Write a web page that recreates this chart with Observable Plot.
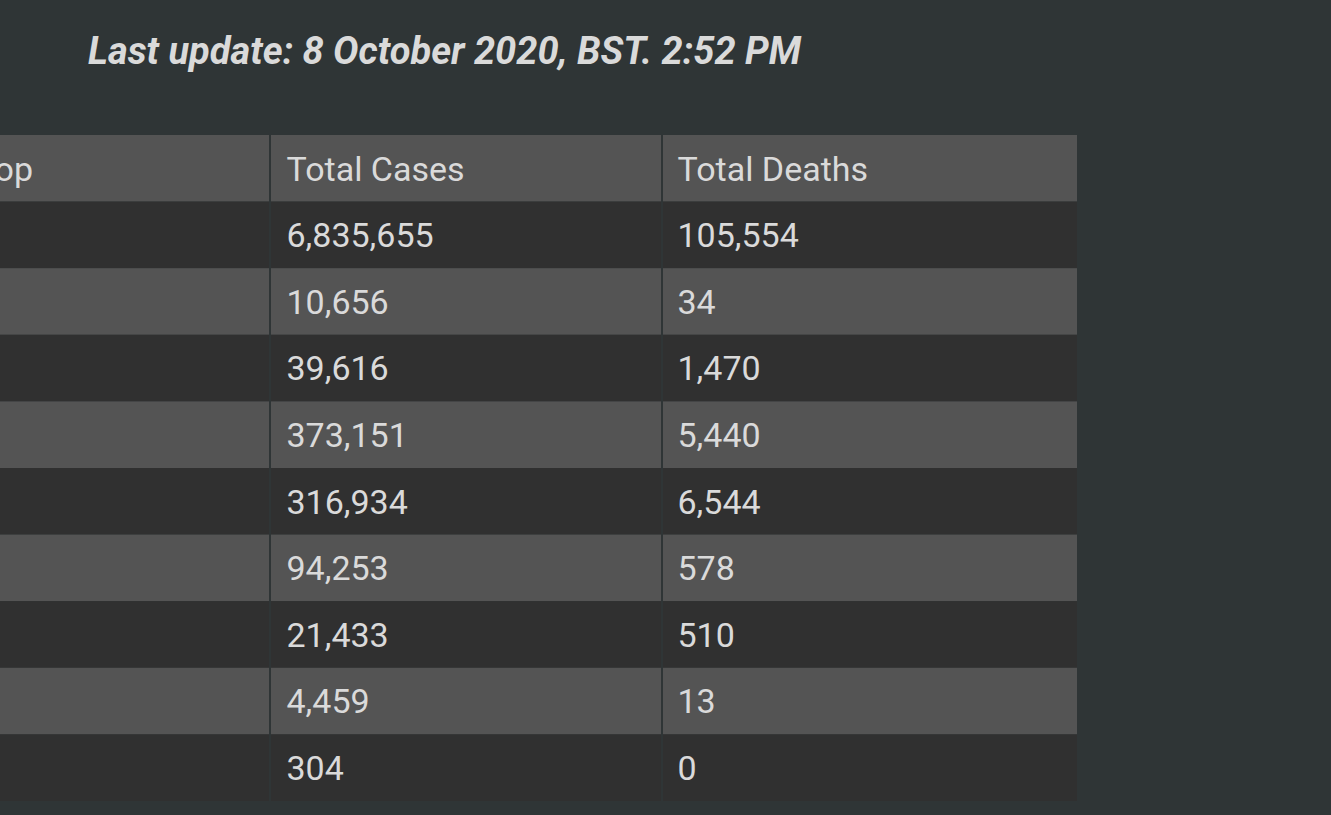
<!DOCTYPE html>
<html>
<head>
<meta charset="utf-8">
<script src="https://cdn.jsdelivr.net/npm/d3@7"></script>
<script src="https://cdn.jsdelivr.net/npm/@observablehq/plot@0.6"></script>
<style>
  html, body { margin: 0; padding: 0; background: #2f3536; overflow: hidden; width: 1331px; height: 815px; }
  #title { height: 100px; box-sizing: border-box; padding: 32px 0 0 88px; font-family: Roboto, sans-serif; font-weight: 700; font-style: italic; font-size: 38px; line-height: 38px; color: #dadada; white-space: nowrap; }
  #chart svg { display: block; }
</style>
</head>
<body>
<div id="title">Last update: 8 October 2020, BST. 2:52 PM</div>
<div id="chart"></div>
<script>
const columns = ["Country Pop", "Total Cases", "Total Deaths"];
const rows = ["India", "Maldives", "Afghanistan", "Bangladesh", "Pakistan", "Nepal", "Myanmar", "Sri Lanka", "Bhutan"];
const totalCases = [6835655, 10656, 39616, 373151, 316934, 94253, 21433, 4459, 304];
const totalDeaths = [105554, 34, 1470, 5440, 6544, 578, 510, 13, 0];

const fmt = d3.format(",");
const rowKeys = ["header", ...rows];
const cells = [];
columns.forEach((c) => cells.push({row: "header", col: c, label: c, k: 0}));
rows.forEach((r, i) => {
  cells.push({row: r, col: columns[0], label: "", k: i + 1});
  cells.push({row: r, col: columns[1], label: fmt(totalCases[i]), k: i + 1});
  cells.push({row: r, col: columns[2], label: fmt(totalDeaths[i]), k: i + 1});
});
const inCol = (j) => cells.filter((d) => d.col === columns[j]);
const fillOf = (d) => d.k % 2 === 0 ? "#545454" : "#303030";
const txt = {x: "col", y: "row", text: "label", dy: 1, fill: "#dadada", fontSize: 34};

const plot = Plot.plot({
  width: 1331,
  height: 715,
  margin: 0,
  style: {background: "transparent", fontFamily: "Roboto, sans-serif"},
  x: {type: "band", domain: columns, range: [-144, 1077], padding: 0, round: false, axis: null},
  y: {type: "band", domain: rowKeys, range: [35, 701], padding: 0, round: false, axis: null},
  marks: [
    Plot.cell(inCol(0), {x: "col", y: "row", fill: fillOf, insetRight: -6}),
    Plot.cell(inCol(1), {x: "col", y: "row", fill: fillOf, insetLeft: 8, insetRight: 9}),
    Plot.cell(inCol(2), {x: "col", y: "row", fill: fillOf, insetLeft: -7}),
    Plot.text(inCol(0), {...txt, textAnchor: "end", dx: -27}),
    Plot.text(inCol(1), {...txt, textAnchor: "start", dx: -180.5}),
    Plot.text(inCol(2), {...txt, textAnchor: "start", dx: -196.5})
  ]
});
document.getElementById("chart").appendChild(plot);
</script>
</body>
</html>
